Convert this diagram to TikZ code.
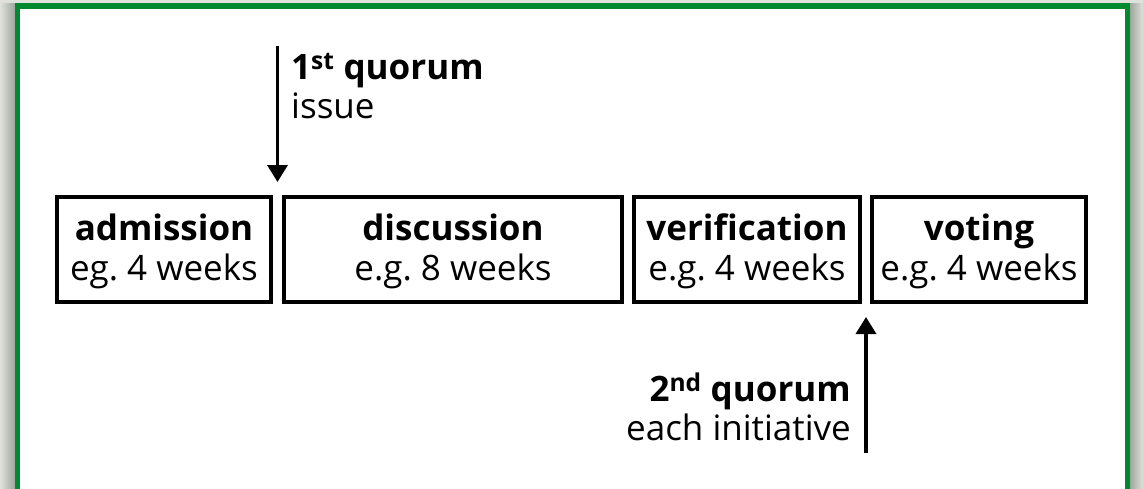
\documentclass[tikz,border=0pt]{standalone}
\usepackage{fontspec}
\setmainfont{Open Sans}
\usetikzlibrary{arrows.meta}
\definecolor{framegreen}{RGB}{0,137,47}
\definecolor{shadowdark}{RGB}{158,166,158}
\definecolor{shadowlight}{RGB}{222,226,218}
\frenchspacing
\newcommand{\phasetitle}[1]{\rule{0pt}{30.5pt}\textbf{#1}}
\tikzset{
  phase/.style={draw, line width=4pt, minimum height=105pt, inner sep=0pt,
    align=center, font=\fontsize{35}{40}\selectfont},
  quorumlabel/.style={inner sep=0pt, font=\fontsize{35}{39}\selectfont},
  quorumarrow/.style={line width=3.5pt, -{Triangle[width=20pt,length=17pt]}},
}
\begin{document}
\begin{tikzpicture}[x=1pt,y=-1pt]
\useasboundingbox (0,0) rectangle (1143,488);
% drop shadow around the frame
\fill[shadowlight] (0,0) rectangle (1143,488);
\shade[left color=shadowlight, right color=shadowdark] (0,3) rectangle (15,488);
\shade[left color=shadowdark, right color=shadowlight] (1130,3) rectangle (1143,488);
% frame
\fill[white] (17.5,6) rectangle (1127.5,490);
\draw[framegreen, line width=5.5pt] (17.5,492) -- (17.5,6) -- (1127.5,6) -- (1127.5,492);

% phases
\node[phase, minimum width=214pt] (adm) at (164,249.5) {\phasetitle{admission}\\eg. 4 weeks};
\node[phase, minimum width=338pt] (disc) at (453,249.5) {\phasetitle{discussion}\\e.g. 8 weeks};
\node[phase, minimum width=226pt] (veri) at (747,249.5) {\phasetitle{verification}\\e.g. 4 weeks};
\node[phase, minimum width=214pt] (vote) at (979,249.5) {\phasetitle{voting}\\e.g. 4 weeks};

% first quorum
\coordinate (q1from) at (277.5,46);
\coordinate (q1to) at (277.5,182);
\draw[quorumarrow] (q1from) -- (q1to);
\node[quorumlabel, anchor=base west, align=left] (q1) at (291,118)
  {\textbf{1\textsuperscript{st} quorum}\\issue};

% second quorum
\coordinate (q2from) at (866,453);
\coordinate (q2to) at (866,317);
\draw[quorumarrow] (q2from) -- (q2to);
\node[quorumlabel, anchor=base east, align=right] (q2) at (851,440)
  {\textbf{2\textsuperscript{nd} quorum}\\each initiative};
\end{tikzpicture}
\end{document}
